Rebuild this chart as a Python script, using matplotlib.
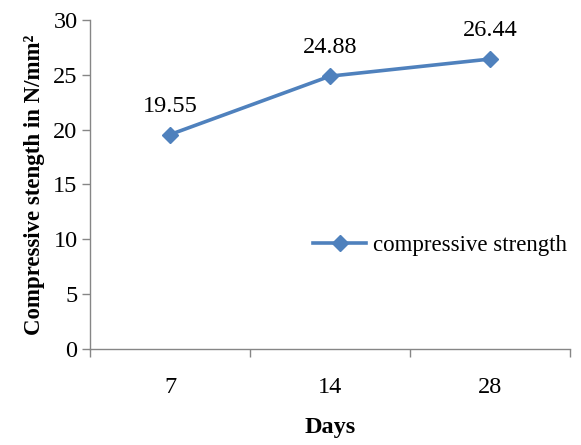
import matplotlib
matplotlib.use("Agg")
import matplotlib.pyplot as plt

plt.rcParams['font.family'] = ['Liberation Serif', 'DejaVu Serif']

# compressive strength at each curing age
days = ['7', '14', '28']
strength = [19.55, 24.88, 26.44]

blue = '#4F81BD'
grey = '#868686'
fs = 17.5

fig = plt.figure(figsize=(5.81, 4.45), dpi=100)
ax = fig.add_axes([0.155, 0.216, 0.826, 0.739])

x = range(len(days))
ax.plot(x, strength, color=blue, linewidth=2.6, marker='D', markersize=8,
        label='compressive strength')

for xi, v in zip(x, strength):
    ax.annotate(f'{v:.2f}', (xi, v), xytext=(0, 13), textcoords='offset points',
                ha='center', va='bottom', fontsize=fs)

ax.set_xlim(-0.5, len(days) - 0.5)
ax.set_ylim(0, 30)
ax.set_yticks(range(0, 31, 5))
ax.set_xticks(x)
ax.set_xticklabels(days)
ax.set_xticks([-0.5, 0.5, 1.5, 2.5], minor=True)
ax.tick_params(axis='x', which='major', length=0, pad=20, labelsize=fs)
ax.tick_params(axis='x', which='minor', length=6, color=grey, width=1)
ax.tick_params(axis='y', length=6, color=grey, width=1, labelsize=fs, pad=3)

for side in ['top', 'right']:
    ax.spines[side].set_visible(False)
for side in ['left', 'bottom']:
    ax.spines[side].set_color(grey)
    ax.spines[side].set_linewidth(1)

ax.set_xlabel('Days', fontsize=fs, fontweight='bold', labelpad=14)
ax.set_ylabel('Compressive stength in N/mm²', fontsize=16.5, fontweight='bold', labelpad=6)

ax.legend(loc='center left', bbox_to_anchor=(0.432, 0.315), frameon=False,
          fontsize=16.5, handlelength=2.3, handletextpad=0.3, borderpad=0.2)

fig.savefig('out.png', dpi=100)
